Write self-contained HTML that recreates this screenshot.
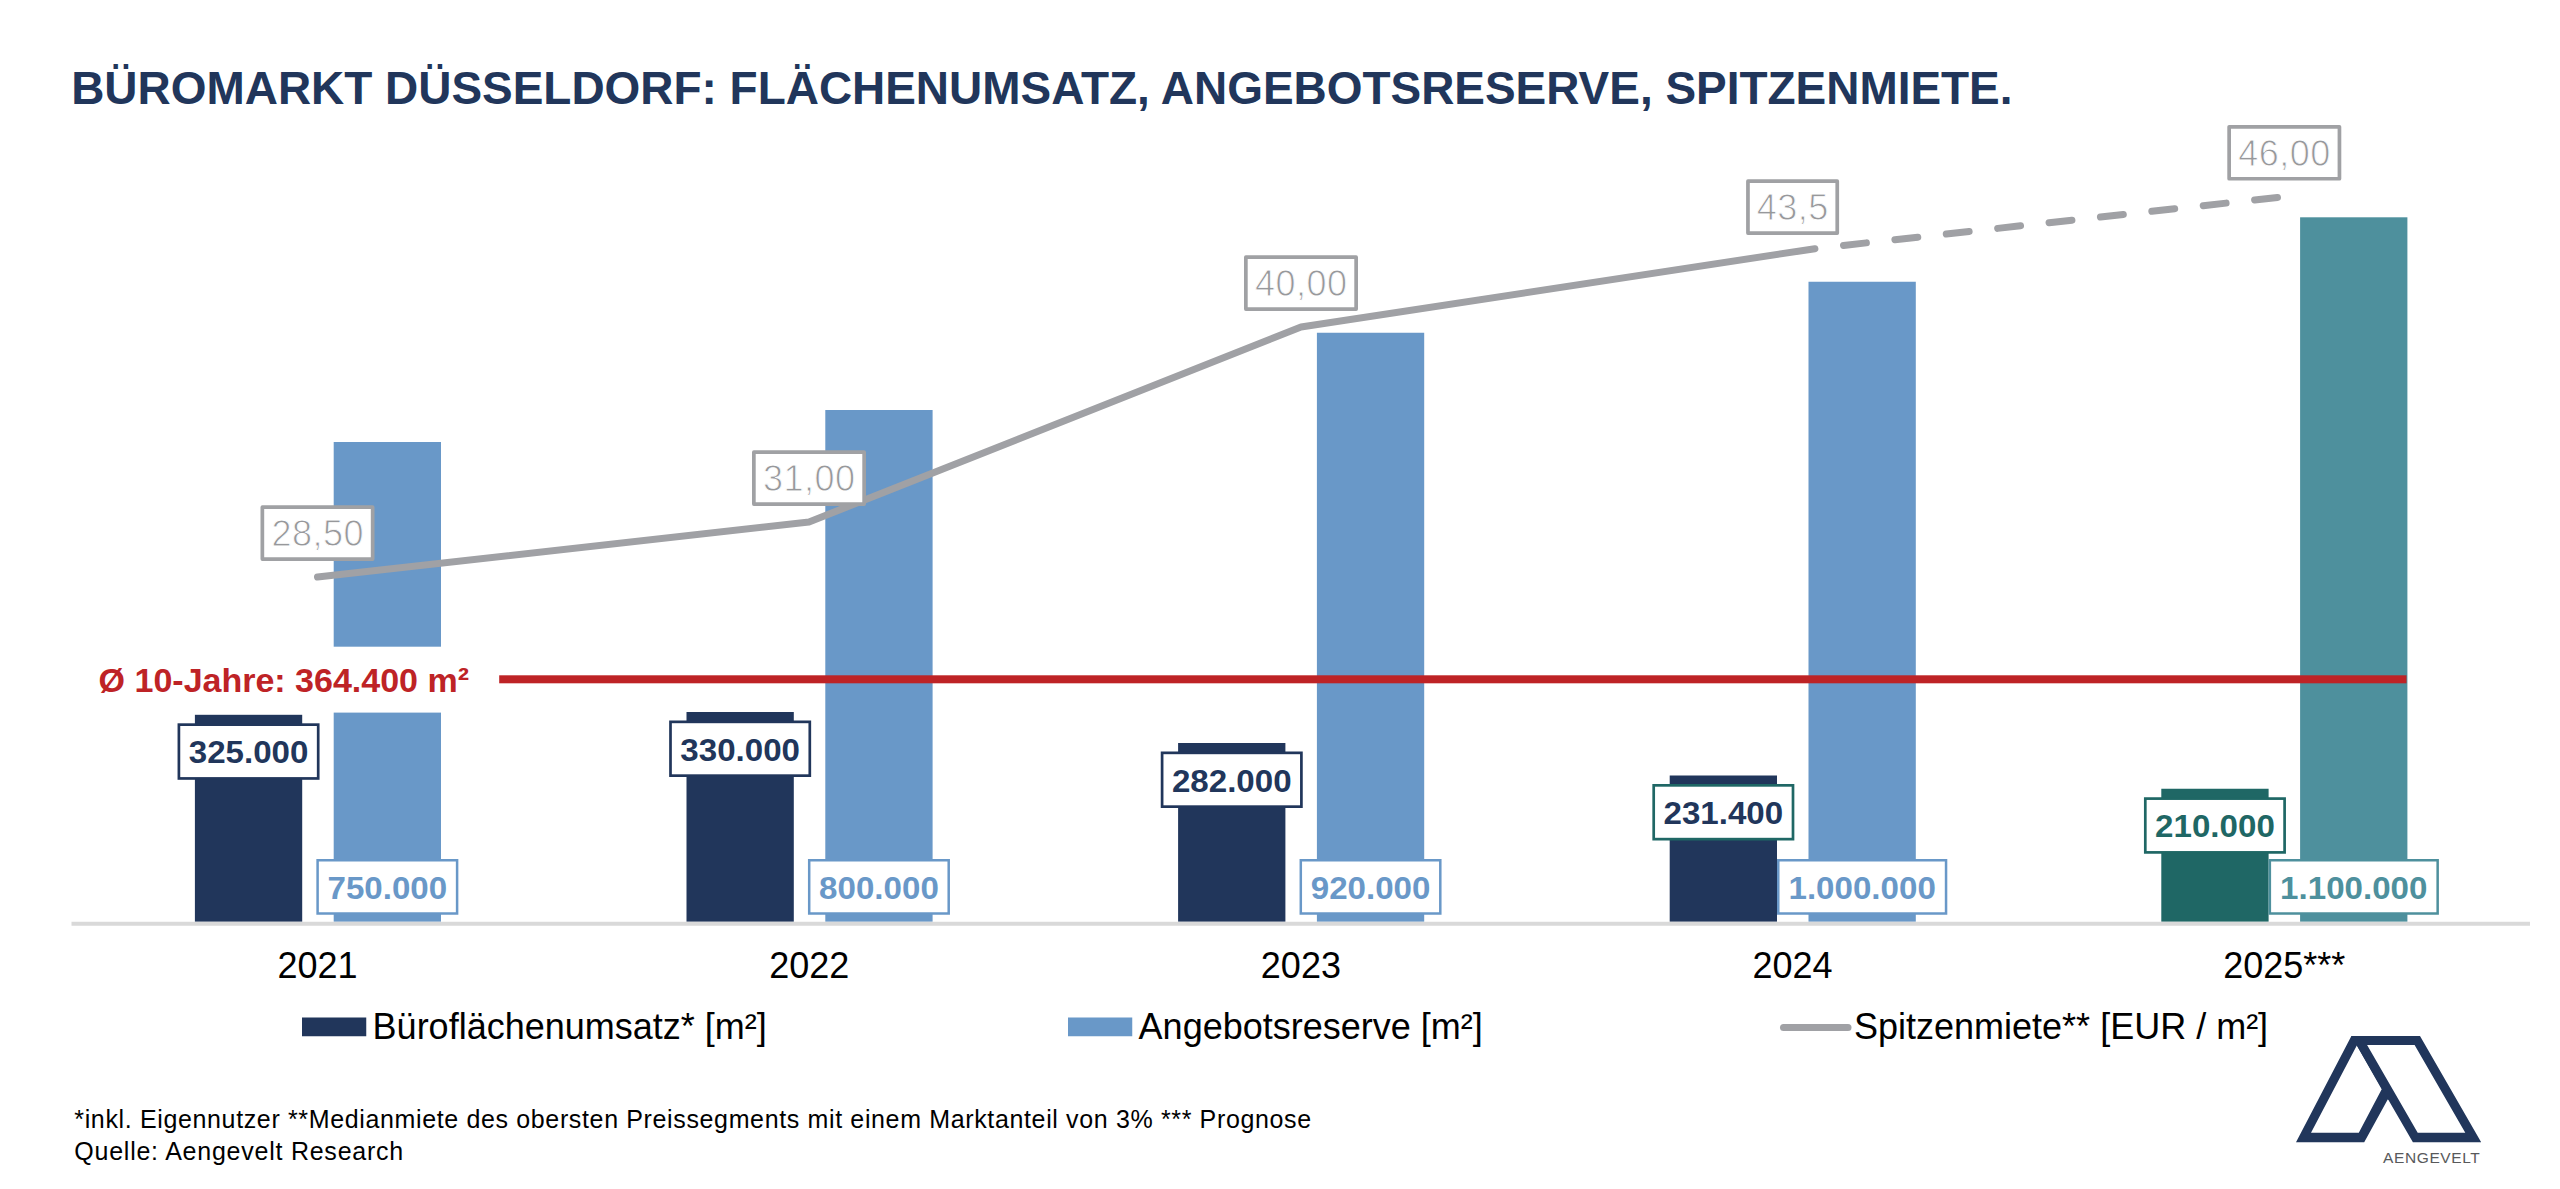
<!DOCTYPE html>
<html lang="de"><head><meta charset="utf-8"><title>Büromarkt Düsseldorf</title>
<style>html,body{margin:0;padding:0;background:#fff}body{width:2560px;height:1189px;overflow:hidden}svg{display:block}text{font-family:"Liberation Sans",sans-serif}.t{font-weight:700;font-size:45.94px;fill:#21365b}.c{font-size:36px;fill:#000;text-anchor:middle}.l{font-size:36px;fill:#000}.f{font-size:25px;letter-spacing:0.64px;fill:#000}.g{font-size:36px;letter-spacing:0.5px;fill:#97989b;stroke:#fff;stroke-width:0.9px;text-anchor:middle}.b{font-weight:700;font-size:30.9px;text-anchor:middle}.r{font-weight:700;font-size:34px;fill:#be2326}</style></head><body>
<svg width="2560" height="1189" viewBox="0 0 2560 1189">
<rect width="2560" height="1189" fill="#fff"/>
<text class="t" x="71.2" y="104">BÜROMARKT DÜSSELDORF: FLÄCHENUMSATZ, ANGEBOTSRESERVE, SPITZENMIETE.</text>
<rect x="333.70" y="442.00" width="107.30" height="479.75" fill="#6998c8"/>
<rect x="194.90" y="714.80" width="107.30" height="206.95" fill="#21365b"/>
<rect x="825.30" y="410.00" width="107.30" height="511.75" fill="#6998c8"/>
<rect x="686.50" y="712.00" width="107.30" height="209.75" fill="#21365b"/>
<rect x="1316.90" y="332.75" width="107.30" height="589.00" fill="#6998c8"/>
<rect x="1178.10" y="743.00" width="107.30" height="178.75" fill="#21365b"/>
<rect x="1808.50" y="281.75" width="107.30" height="640.00" fill="#6998c8"/>
<rect x="1669.70" y="775.50" width="107.30" height="146.25" fill="#21365b"/>
<rect x="2300.10" y="217.30" width="107.30" height="704.45" fill="#4e909d"/>
<rect x="2161.30" y="788.75" width="107.30" height="133.00" fill="#1f6765"/>
<rect x="71.5" y="921.75" width="2458.5" height="4" fill="#d9d9d9"/>
<rect x="85" y="646.7" width="400" height="65.9" fill="#fff"/>
<rect x="499.2" y="675.3" width="1907.3" height="8" fill="#be2326"/>
<text class="r" x="98.6" y="692">Ø 10-Jahre: 364.400 m²</text>
<polyline points="317.5,577.0 809.0,522.0 1301.0,327.0 1814.9,248.7" fill="none" stroke="#a0a1a5" stroke-width="7" stroke-linecap="round" stroke-linejoin="round"/>
<line x1="1843.5" y1="245.4" x2="2284.3" y2="196.7" stroke="#a0a1a5" stroke-width="7" stroke-linecap="round" stroke-dasharray="23 28.7"/>
<rect x="262.35" y="507.15" width="110.30" height="51.90" fill="#fff" stroke="#a0a1a4" stroke-width="3.7" stroke-linejoin="round"/>
<text class="g" x="317.75" y="545.80">28,50</text>
<rect x="753.85" y="452.15" width="110.30" height="51.90" fill="#fff" stroke="#a0a1a4" stroke-width="3.7" stroke-linejoin="round"/>
<text class="g" x="809.25" y="490.80">31,00</text>
<rect x="1245.85" y="257.15" width="110.30" height="51.90" fill="#fff" stroke="#a0a1a4" stroke-width="3.7" stroke-linejoin="round"/>
<text class="g" x="1301.25" y="295.80">40,00</text>
<rect x="1747.95" y="181.15" width="89.30" height="51.90" fill="#fff" stroke="#a0a1a4" stroke-width="3.7" stroke-linejoin="round"/>
<text class="g" x="1792.85" y="219.80">43,5</text>
<rect x="2229.15" y="126.85" width="110.30" height="51.90" fill="#fff" stroke="#a0a1a4" stroke-width="3.7" stroke-linejoin="round"/>
<text class="g" x="2284.55" y="165.50">46,00</text>
<rect x="178.90" y="724.65" width="139.30" height="53.80" fill="#fff" stroke="#21365b" stroke-width="2.7"/>
<text class="b" transform="translate(248.55 763.30) scale(1.072 1)" fill="#21365b">325.000</text>
<rect x="317.60" y="860.25" width="139.50" height="53.25" fill="#fff" stroke="#6998c8" stroke-width="2.5"/>
<text class="b" transform="translate(387.35 898.50) scale(1.072 1)" fill="#6998c8">750.000</text>
<rect x="670.50" y="721.85" width="139.30" height="53.80" fill="#fff" stroke="#21365b" stroke-width="2.7"/>
<text class="b" transform="translate(740.15 760.50) scale(1.072 1)" fill="#21365b">330.000</text>
<rect x="809.20" y="860.25" width="139.50" height="53.25" fill="#fff" stroke="#6998c8" stroke-width="2.5"/>
<text class="b" transform="translate(878.95 898.50) scale(1.072 1)" fill="#6998c8">800.000</text>
<rect x="1162.10" y="752.85" width="139.30" height="53.80" fill="#fff" stroke="#21365b" stroke-width="2.7"/>
<text class="b" transform="translate(1231.75 791.50) scale(1.072 1)" fill="#21365b">282.000</text>
<rect x="1300.80" y="860.25" width="139.50" height="53.25" fill="#fff" stroke="#6998c8" stroke-width="2.5"/>
<text class="b" transform="translate(1370.55 898.50) scale(1.072 1)" fill="#6998c8">920.000</text>
<rect x="1653.70" y="785.35" width="139.30" height="53.80" fill="#fff" stroke="#1f6765" stroke-width="2.7"/>
<text class="b" transform="translate(1723.35 824.00) scale(1.072 1)" fill="#21365b">231.400</text>
<rect x="1778.25" y="860.25" width="167.80" height="53.25" fill="#fff" stroke="#6998c8" stroke-width="2.5"/>
<text class="b" transform="translate(1862.15 898.50) scale(1.072 1)" fill="#6998c8">1.000.000</text>
<rect x="2145.30" y="798.60" width="139.30" height="53.80" fill="#fff" stroke="#1f6765" stroke-width="2.7"/>
<text class="b" transform="translate(2214.95 837.25) scale(1.072 1)" fill="#1f6765">210.000</text>
<rect x="2269.85" y="860.25" width="167.80" height="53.25" fill="#fff" stroke="#4e909d" stroke-width="2.5"/>
<text class="b" transform="translate(2353.75 898.50) scale(1.072 1)" fill="#4e909d">1.100.000</text>
<text class="c" x="317.50" y="978">2021</text>
<text class="c" x="809.20" y="978">2022</text>
<text class="c" x="1300.90" y="978">2023</text>
<text class="c" x="1792.60" y="978">2024</text>
<text class="c" x="2284.30" y="978">2025***</text>
<rect x="302" y="1017.5" width="64.25" height="18.75" fill="#21365b"/>
<text class="l" x="372.6" y="1038.5">Büroflächenumsatz* [m²]</text>
<rect x="1068" y="1017.5" width="64.25" height="18.75" fill="#6998c8"/>
<text class="l" x="1138.6" y="1038.5">Angebotsreserve [m²]</text>
<line x1="1783.5" y1="1027.4" x2="1848" y2="1027.4" stroke="#a0a1a5" stroke-width="7" stroke-linecap="round"/>
<text class="l" x="1854" y="1038.5">Spitzenmiete** [EUR / m²]</text>
<text class="f" x="74.3" y="1128">*inkl. Eigennutzer **Medianmiete des obersten Preissegments mit einem Marktanteil von 3% *** Prognose</text>
<text class="f" style="letter-spacing:0.76px" x="74.3" y="1159.6">Quelle: Aengevelt Research</text>
<path fill-rule="evenodd" fill="#21365b" d="M2351.4 1035.9L2355 1035.9L2392 1100L2387.7 1099.4L2364.2 1142.2L2296 1142.2Z M2356.8 1045.6L2311 1132.7L2358.8 1132.7L2381.7 1089.3Z"/>
<path fill-rule="evenodd" fill="#21365b" d="M2351.4 1035.9L2420 1035.9L2481.2 1142.2L2412.9 1142.2Z M2367.1 1044.9L2414.6 1044.9L2465.3 1132.7L2417.7 1132.7Z"/>
<text x="2383" y="1163.3" style="font-size:15.5px;letter-spacing:0.62px;fill:#58595b">AENGEVELT</text>
</svg></body></html>
